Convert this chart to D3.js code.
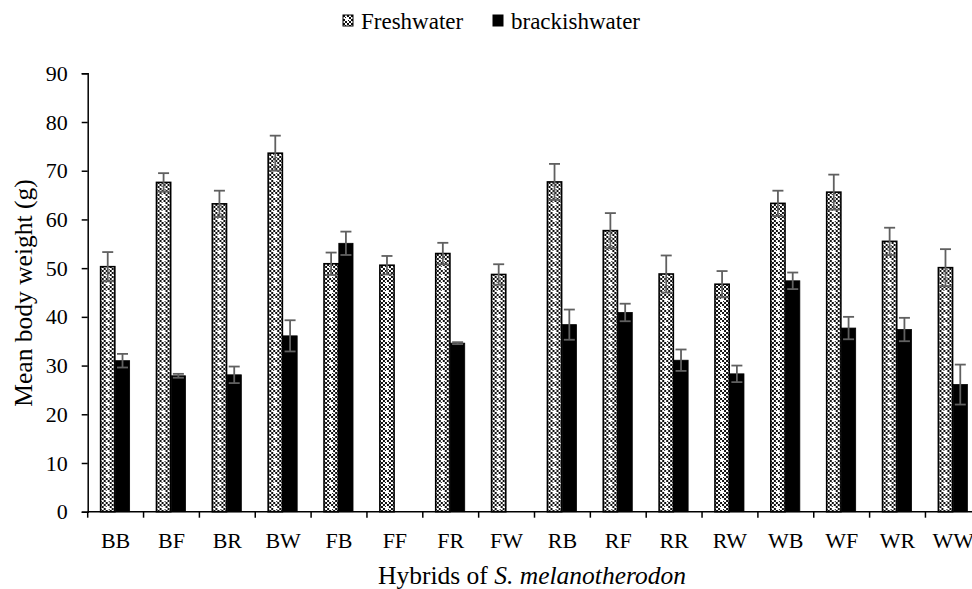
<!DOCTYPE html>
<html>
<head>
<meta charset="utf-8">
<script src="https://cdn.jsdelivr.net/npm/d3@7"></script>
<style>
  html, body { margin: 0; padding: 0; background: #fff; }
  svg { display: block; }
  text { font-family: "Liberation Serif", "Times New Roman", serif; fill: #000; }
</style>
</head>
<body>
<svg id="chart" width="972" height="589"></svg>
<script>
// Hybrid groups on the x axis
const hybrids = ["BB","BF","BR","BW","FB","FF","FR","FW","RB","RF","RR","RW","WB","WF","WR","WW"];
const seriesNames = ["Freshwater", "brackishwater"];

// Mean body weight (g) and standard error for each hybrid; null = not reared
const freshwaterMean = [50.3, 67.6, 63.2, 73.6, 50.9, 50.6, 53.0, 48.7, 67.7, 57.7, 48.8, 46.7, 63.3, 65.6, 55.5, 50.1];
const freshwaterErr  = [3.0, 1.9, 2.7, 3.6, 2.3, 1.9, 2.2, 2.1, 3.7, 3.6, 3.8, 2.7, 2.6, 3.6, 2.8, 3.8];
const brackishMean   = [31.0, 27.9, 28.1, 36.1, 55.1, null, 34.6, null, 38.4, 40.9, 31.1, 28.3, 47.4, 37.7, 37.4, 26.1];
const brackishErr    = [1.4, 0.4, 1.7, 3.2, 2.4, null, 0.2, null, 3.1, 1.8, 2.2, 1.7, 1.7, 2.3, 2.4, 4.1];

const yTicks = [0, 10, 20, 30, 40, 50, 60, 70, 80, 90];

const svg = d3.select("#chart");

// Checkered fill with small white crosses, used for the freshwater bars
const defs = svg.append("defs");
const pat = defs.append("pattern")
  .attr("id", "checker")
  .attr("patternUnits", "userSpaceOnUse")
  .attr("width", 8).attr("height", 8);
pat.append("rect").attr("width", 8).attr("height", 8).attr("fill", "#fff");
for (let i = 0; i < 4; i++) {
  for (let j = 0; j < 4; j++) {
    if ((i + j) % 2 === 0) {
      pat.append("rect").attr("x", i * 2).attr("y", j * 2).attr("width", 2).attr("height", 2).attr("fill", "#111");
    }
  }
}
pat.append("rect").attr("x", 3).attr("y", 2).attr("width", 2).attr("height", 4).attr("fill", "#fff");
pat.append("rect").attr("x", 2).attr("y", 3).attr("width", 4).attr("height", 2).attr("fill", "#fff");

const plotLeft = 87.7, plotTop = 73.3, plotBottom = 511.7, step = 55.85;

const x = d3.scaleBand()
  .domain(hybrids)
  .range([plotLeft, plotLeft + step * hybrids.length])
  .paddingInner(0).paddingOuter(0);

const xSub = d3.scaleBand()
  .domain(seriesNames)
  .range([step / 2 - 15, step / 2 + 14])
  .paddingInner(0.04);

const y = d3.scaleLinear().domain([0, 90]).range([plotBottom, plotTop]);

const rows = hybrids.map((h, i) => ({
  hybrid: h,
  values: [
    { series: "Freshwater", mean: freshwaterMean[i], err: freshwaterErr[i] },
    { series: "brackishwater", mean: brackishMean[i], err: brackishErr[i] }
  ]
}));

const groups = svg.append("g").selectAll("g")
  .data(rows).join("g")
  .attr("transform", d => `translate(${x(d.hybrid)},0)`);

const bars = groups.selectAll("g.bar")
  .data(d => d.values.filter(v => v.mean !== null))
  .join("g").attr("class", "bar");

bars.append("rect")
  .attr("x", d => xSub(d.series))
  .attr("y", d => y(d.mean))
  .attr("width", xSub.bandwidth())
  .attr("height", d => y(0) - y(d.mean))
  .attr("fill", d => d.series === "Freshwater" ? "url(#checker)" : "#000")
  .attr("stroke", "#000")
  .attr("stroke-width", d => d.series === "Freshwater" ? 1.6 : 0.8);

// Error bars (mean ± SE) with caps at both ends
const errColor = "#606060";
bars.each(function(d) {
  const g = d3.select(this);
  const cx = xSub(d.series) + xSub.bandwidth() / 2;
  const hi = y(d.mean + d.err), lo = y(d.mean - d.err);
  g.append("line").attr("x1", cx).attr("x2", cx).attr("y1", hi).attr("y2", lo)
    .attr("stroke", errColor).attr("stroke-width", 1.8);
  [hi, lo].forEach(yy => {
    g.append("line").attr("x1", cx - 5.5).attr("x2", cx + 5.5).attr("y1", yy).attr("y2", yy)
      .attr("stroke", errColor).attr("stroke-width", 1.8);
  });
});

// Y axis
const yAxis = svg.append("g")
  .attr("transform", `translate(${plotLeft},0)`)
  .call(d3.axisLeft(y).tickValues(yTicks).tickSize(6).tickPadding(14));
yAxis.select(".domain").attr("stroke", "#000").attr("stroke-width", 1.5);
yAxis.selectAll(".tick line").attr("stroke", "#000").attr("stroke-width", 1.5);
yAxis.selectAll(".tick text").attr("font-size", 22).attr("fill", "#000");

// X axis: ticks at the group boundaries; the last group runs past the right edge
const xAxisG = svg.append("g").attr("transform", `translate(0,${plotBottom})`);
xAxisG.append("line")
  .attr("x1", plotLeft).attr("x2", x.range()[1])
  .attr("stroke", "#000").attr("stroke-width", 1.5);
const boundaries = hybrids.map(h => x(h)).concat([x.range()[1]]);
xAxisG.selectAll("line.tick").data(boundaries).join("line")
  .attr("class", "tick")
  .attr("x1", d => d).attr("x2", d => d)
  .attr("y1", 0).attr("y2", 6)
  .attr("stroke", "#000").attr("stroke-width", 1.5);
xAxisG.selectAll("text").data(hybrids).join("text")
  .attr("x", d => x(d) + x.bandwidth() / 2)
  .attr("y", 36)
  .attr("text-anchor", "middle")
  .attr("font-size", 22)
  .text(d => d);

// Axis titles
svg.append("text")
  .attr("transform", "translate(32,293) rotate(-90)")
  .attr("text-anchor", "middle")
  .attr("font-size", 25.5)
  .text("Mean body weight (g)");

const xt = svg.append("text")
  .attr("x", 532).attr("y", 584)
  .attr("text-anchor", "middle")
  .attr("font-size", 25.5);
xt.append("tspan").text("Hybrids of ");
xt.append("tspan").attr("font-style", "italic").text("S. melanotherodon");

// Legend
const legend = svg.append("g").attr("transform", "translate(343,15)");
const legendItems = [
  { name: "Freshwater", fill: "url(#checker)", dx: 0 },
  { name: "brackishwater", fill: "#000", dx: 150 }
];
const li = legend.selectAll("g").data(legendItems).join("g")
  .attr("transform", d => `translate(${d.dx},0)`);
li.append("rect").attr("x", 0).attr("y", 0).attr("width", 10).attr("height", 11)
  .attr("fill", d => d.fill).attr("stroke", "#000").attr("stroke-width", 1);
li.append("text").attr("x", 18).attr("y", 14).attr("font-size", 23).text(d => d.name);
</script>
</body>
</html>
